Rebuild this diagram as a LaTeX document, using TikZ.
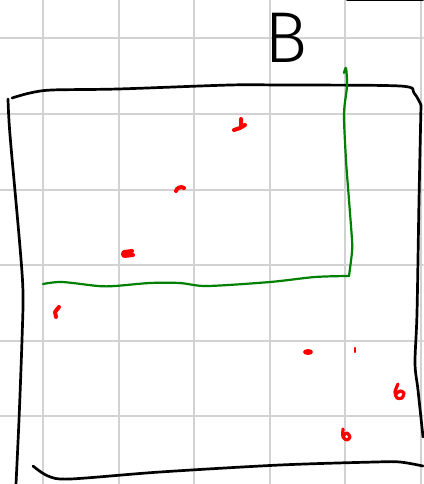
\documentclass[tikz,border=0pt]{standalone}
\usepackage{fontspec}
\newfontfamily\sketchfont{Fira Sans Light}
\usetikzlibrary{arrows.meta}

\begin{document}
\begin{tikzpicture}[x=1pt,y=-1pt,line cap=round,line join=round,
  pen/.style={black,line width=2.7pt},
  greenpen/.style={green!50!black,line width=2.2pt},
  redmark/.style={red,line width=4pt}]
  \useasboundingbox (0,0) rectangle (423,484);
  \foreach \k in {0,...,5} {
    \draw[gray!35,line width=2pt] (43+75.6*\k,0)--(43+75.6*\k,484);
    \draw[gray!35,line width=2pt] (0,38.3+75.6*\k)--(423,38.3+75.6*\k);
  }
  \node[font=\sketchfont\fontsize{72}{72}\selectfont,anchor=base] (title) at (286,63) {B};
  % box
  \draw[pen] plot[smooth] coordinates {(12,98)(30,93)(52,90)(118,89)(230,85)(280,85)(400,86)(414,93)(421,105)};
  \draw[pen] plot[smooth] coordinates {(8,99)(10,135)(20,247)(23,293)(22,340)(19,420)(16,484)};
  \draw[pen] plot[smooth] coordinates {(421,105)(419,200)(417,313)(415,363)(418,390)(423,437)};
  \draw[pen] plot[smooth] coordinates {(33,466)(48,476)(70,479)(160,472)(280,465)(375,462)(400,462)(423,466)};
  \draw[pen,line width=2pt] (347,0.5)--(423,0.5);
  % green region
  \draw[greenpen] plot[smooth] coordinates {(344,73)(346,68)(347,86)(344,114)(346,160)(349,200)(352,240)(352,252)(349,276)};
  \draw[greenpen] plot[smooth] coordinates {(349,276)(315,277)(270,282)(207,286)(180,283)(150,283)(115,286)(98,286)(62,282)(43,284)};
  % red marks
  \draw[redmark] (234,130)--(240,128)--(245,125) (241,119)--(241,126);
  \draw[redmark] (176,191) to[bend left=60] (184,188);
  \draw[redmark] (132,251)--(124,252) to[bend right=70] (124,256)--(133,255);
  \draw[redmark] (59,307)--(55,312)--(56,317);
  \fill[red] (308,352) ellipse (5pt and 3pt);
  \draw[red,line width=2.2pt] (355,348)--(355,352);
  \draw[redmark,line width=3.2pt] plot[smooth] coordinates {(398,384)(395,392)(397,398)(402,398)(404,393)(400,391)(396,394)};
  \draw[redmark,line width=3.2pt] plot[smooth] coordinates {(343,429)(343,437)(347,440)(350,437)(347,433)(343,436)};
\end{tikzpicture}
\end{document}
